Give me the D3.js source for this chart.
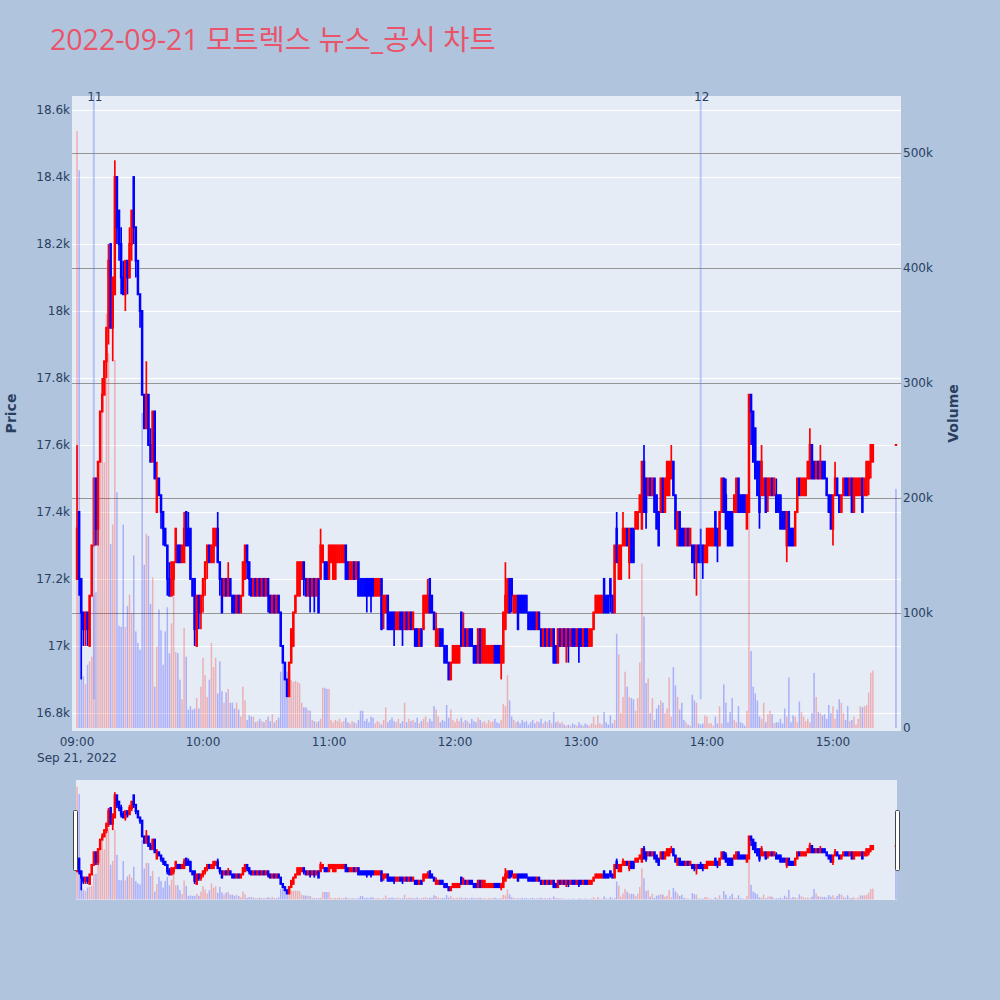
<!DOCTYPE html>
<html><head><meta charset="utf-8">
<script src="https://cdn.jsdelivr.net/npm/d3@7"></script>
<style>body{margin:0;background:#b0c4de;}svg{display:block}</style>
</head><body>
<svg id="chart" width="1000" height="1000"></svg>
<script>
const chartTitle = "2022-09-21 모트렉스 뉴스_공시 차트";
const tradeDate = "2022-09-21";
const firstTime = "09:00";
// one candle per minute from 09:00 to 15:19
const opens = [
17200,17400,17200,17100,17050,17100,17000,17150,17300,17500,
17350,17550,17700,17750,17850,17950,18200,17950,18050,18400,
18300,18200,18100,18050,18150,18100,18200,18400,18250,18150,
18050,18000,17750,17650,17750,17600,17550,17700,17400,17500,
17450,17400,17350,17300,17200,17150,17200,17250,17300,17300,
17250,17250,17400,17350,17350,17200,17200,17000,17150,17100,
17150,17200,17250,17300,17250,17250,17300,17350,17250,17200,
17150,17200,17150,17200,17150,17150,17100,17150,17100,17150,
17200,17300,17250,17200,17150,17200,17150,17200,17150,17200,
17150,17200,17150,17100,17150,17100,17150,17100,17000,16950,
16900,16850,16950,17000,17100,17150,17150,17200,17250,17200,
17150,17200,17150,17200,17150,17200,17200,17250,17250,17250,
17200,17250,17200,17200,17250,17250,17250,17250,17300,17250,
17200,17200,17250,17200,17250,17200,17200,17200,17200,17200,
17200,17200,17150,17150,17150,17200,17100,17100,17150,17100,
17100,17100,17050,17050,17100,17100,17050,17100,17050,17100,
17050,17050,17050,17000,17050,17050,17100,17100,17200,17150,
17100,17000,17000,17050,17050,17000,17000,16950,16900,16950,
16950,16950,16950,17100,17000,17050,17000,17050,17050,17000,
17000,16950,17050,16950,16950,16950,16950,16950,16950,17000,
17000,17000,16950,16950,17050,17100,17200,17200,17100,17100,
17150,17150,17150,17150,17150,17100,17100,17100,17100,17050,
17100,17050,17000,17050,17000,17050,17000,17050,17000,16950,
17050,17000,17050,17000,17050,17000,17050,17050,17000,17050,
17050,17000,17050,17050,17000,17000,17050,17100,17100,17100,
17100,17200,17150,17150,17200,17150,17100,17350,17200,17200,
17300,17300,17350,17250,17350,17350,17350,17350,17400,17350,
17550,17500,17450,17500,17450,17500,17450,17400,17400,17500,
17400,17450,17450,17500,17550,17450,17300,17400,17350,17350,
17300,17350,17300,17300,17300,17250,17300,17300,17300,17250,
17250,17300,17300,17300,17400,17350,17300,17400,17500,17450,
17400,17400,17400,17400,17400,17500,17450,17450,17450,17350,
17400,17750,17700,17650,17550,17550,17450,17450,17500,17450,
17450,17500,17450,17450,17450,17450,17400,17400,17300,17400,
17350,17350,17300,17400,17500,17450,17450,17450,17500,17500,
17600,17550,17500,17550,17500,17550,17550,17500,17450,17450,
17350,17450,17500,17450,17400,17450,17500,17500,17450,17500,
17400,17450,17450,17450,17500,17450,17450,17500,17550,17550];
const highs = [
17600,17400,17200,17100,17100,17100,17150,17300,17500,17500,
17550,17700,17800,17850,17950,18200,18200,18100,18450,18400,
18300,18250,18150,18150,18150,18250,18300,18400,18250,18150,
18050,18000,17750,17850,17750,17650,17700,17700,17550,17500,
17450,17400,17350,17300,17250,17250,17250,17350,17300,17300,
17300,17400,17400,17400,17350,17200,17200,17150,17150,17150,
17200,17250,17300,17300,17300,17350,17350,17400,17250,17200,
17200,17200,17250,17200,17150,17150,17150,17150,17150,17250,
17300,17300,17250,17200,17200,17200,17200,17200,17200,17200,
17200,17200,17150,17150,17150,17150,17150,17100,17000,16950,
16900,16950,17050,17100,17150,17250,17250,17250,17250,17200,
17200,17200,17200,17200,17200,17200,17350,17300,17250,17250,
17300,17300,17300,17300,17300,17300,17300,17300,17300,17250,
17250,17250,17250,17250,17250,17200,17200,17200,17200,17200,
17200,17200,17200,17200,17200,17200,17150,17150,17150,17100,
17100,17100,17100,17100,17100,17100,17100,17100,17100,17100,
17100,17050,17050,17050,17050,17150,17150,17200,17200,17150,
17100,17100,17050,17050,17050,17000,17000,16950,16950,17000,
17000,17000,17000,17100,17100,17050,17050,17050,17050,17000,
17000,17050,17050,17050,17050,17000,17000,17000,17000,17000,
17000,17000,17000,17100,17250,17200,17200,17200,17150,17150,
17150,17150,17150,17150,17150,17100,17100,17100,17100,17100,
17100,17050,17050,17050,17050,17050,17050,17050,17000,17050,
17050,17050,17050,17050,17050,17050,17050,17050,17050,17050,
17050,17050,17050,17050,17050,17050,17100,17150,17150,17150,
17150,17200,17150,17150,17200,17150,17300,17400,17300,17300,
17400,17350,17350,17350,17350,17350,17400,17400,17450,17550,
17600,17500,17500,17500,17500,17500,17450,17400,17500,17500,
17500,17550,17550,17600,17550,17450,17400,17400,17350,17350,
17350,17350,17350,17300,17300,17300,17300,17350,17300,17300,
17350,17350,17350,17350,17400,17350,17400,17500,17500,17500,
17400,17400,17400,17450,17500,17500,17450,17450,17450,17450,
17750,17750,17700,17650,17550,17550,17600,17500,17500,17500,
17500,17500,17500,17500,17450,17450,17400,17400,17400,17400,
17350,17350,17400,17500,17500,17500,17500,17500,17550,17650,
17600,17550,17550,17550,17600,17550,17550,17500,17450,17450,
17450,17550,17500,17450,17450,17500,17500,17500,17500,17500,
17500,17500,17500,17500,17500,17500,17550,17550,17600,17600];
const lows = [
17200,17150,16900,17000,17000,17000,17000,17150,17300,17300,
17300,17550,17700,17750,17800,17900,17950,17850,18050,18200,
18150,18050,18050,18000,18050,18100,18150,18200,18100,18050,
17950,17750,17650,17650,17600,17550,17550,17500,17400,17450,
17350,17300,17300,17150,17150,17150,17150,17250,17250,17250,
17250,17250,17300,17300,17200,17150,17000,17000,17050,17050,
17100,17150,17200,17250,17250,17250,17300,17250,17150,17100,
17150,17150,17150,17150,17100,17100,17100,17100,17100,17150,
17200,17200,17150,17150,17150,17150,17150,17150,17150,17150,
17150,17100,17100,17100,17100,17100,17100,17000,16950,16900,
16850,16850,16950,17000,17100,17150,17150,17200,17150,17150,
17150,17100,17150,17100,17150,17100,17200,17250,17200,17200,
17200,17250,17200,17200,17250,17250,17250,17250,17200,17200,
17200,17200,17200,17200,17150,17150,17150,17150,17100,17150,
17100,17150,17150,17150,17150,17050,17050,17100,17050,17050,
17050,17000,17050,17050,17050,17000,17050,17050,17050,17050,
17050,17000,17000,17000,17000,17050,17100,17100,17100,17100,
17050,17000,17000,17000,17000,16950,16950,16900,16900,16950,
16950,16950,16950,17000,17000,17000,17000,17000,17000,16950,
16950,16950,16950,16950,16950,16950,16950,16950,16950,16950,
16950,16950,16900,16950,17050,17100,17100,17100,17100,17100,
17050,17100,17100,17100,17100,17050,17050,17050,17050,17050,
17050,17000,17000,17000,17000,17000,17000,16950,16950,16950,
17000,17000,17000,16950,16950,17000,17000,17000,17000,16950,
17000,17000,17000,17000,17000,17000,17050,17100,17100,17100,
17100,17100,17100,17100,17100,17100,17100,17250,17200,17200,
17300,17300,17300,17200,17250,17250,17350,17350,17400,17350,
17400,17350,17450,17450,17450,17400,17350,17300,17400,17400,
17400,17450,17450,17500,17450,17350,17300,17300,17300,17300,
17300,17300,17300,17250,17200,17150,17250,17250,17200,17250,
17250,17300,17300,17300,17300,17250,17300,17400,17400,17350,
17300,17300,17300,17400,17400,17400,17400,17400,17400,17350,
17400,17600,17550,17500,17450,17350,17450,17450,17400,17400,
17450,17450,17450,17400,17400,17350,17350,17350,17250,17300,
17300,17300,17300,17400,17450,17450,17450,17450,17500,17500,
17500,17500,17500,17500,17500,17500,17500,17450,17400,17350,
17300,17450,17450,17400,17400,17450,17450,17450,17450,17400,
17400,17450,17450,17450,17400,17450,17450,17450,17500,17550];
const closes = [
17350,17200,17100,17050,17100,17050,17150,17300,17500,17350,
17550,17700,17750,17850,17950,18150,17950,18100,18400,18250,
18200,18100,18050,18150,18100,18200,18300,18250,18150,18050,
18000,17750,17650,17750,17600,17550,17700,17500,17500,17450,
17400,17350,17300,17200,17150,17250,17250,17350,17250,17250,
17300,17350,17300,17300,17200,17150,17050,17150,17100,17150,
17200,17250,17300,17250,17300,17350,17350,17250,17200,17100,
17200,17150,17200,17150,17100,17100,17150,17100,17150,17250,
17300,17250,17200,17150,17200,17150,17200,17150,17200,17150,
17200,17150,17100,17150,17100,17150,17100,17000,16950,16900,
16850,16950,17050,17100,17150,17250,17250,17250,17200,17150,
17200,17150,17200,17150,17200,17100,17300,17300,17200,17200,
17300,17300,17300,17300,17300,17300,17300,17300,17200,17200,
17250,17250,17200,17250,17150,17150,17150,17150,17150,17150,
17150,17150,17200,17200,17200,17050,17150,17150,17050,17050,
17050,17050,17100,17100,17050,17050,17100,17050,17100,17050,
17100,17000,17000,17050,17000,17150,17150,17150,17100,17100,
17050,17050,17050,17000,17000,16950,16950,16900,16950,17000,
17000,17000,17000,17000,17050,17000,17050,17000,17000,16950,
16950,17050,16950,17050,17050,17000,17000,17000,17000,16950,
16950,16950,17000,17100,17150,17200,17100,17150,17150,17150,
17050,17100,17100,17100,17100,17050,17050,17050,17050,17100,
17050,17000,17050,17000,17050,17000,17050,16950,16950,17050,
17000,17050,17000,17050,17000,17050,17000,17000,17050,17000,
17000,17050,17000,17000,17050,17050,17100,17150,17150,17150,
17150,17100,17100,17100,17150,17100,17300,17250,17300,17300,
17350,17350,17300,17350,17250,17250,17400,17400,17450,17550,
17400,17400,17500,17450,17500,17400,17350,17300,17500,17400,
17500,17550,17550,17550,17450,17350,17400,17300,17300,17300,
17350,17300,17350,17250,17250,17300,17250,17250,17250,17300,
17350,17350,17350,17350,17300,17300,17400,17500,17400,17350,
17300,17300,17300,17450,17500,17400,17400,17400,17400,17450,
17750,17700,17550,17500,17450,17400,17550,17500,17400,17500,
17500,17450,17500,17400,17400,17350,17350,17350,17400,17300,
17300,17300,17400,17500,17450,17500,17500,17500,17550,17600,
17500,17500,17550,17500,17550,17500,17500,17450,17400,17350,
17450,17500,17450,17400,17450,17500,17450,17450,17500,17400,
17500,17500,17500,17500,17400,17500,17550,17550,17600,17600];
const volumes = [
519000,485000,70000,45000,38000,55000,58000,62000,116000,118000,
204000,231000,282000,231000,360000,326000,160000,177000,320000,205000,
89000,88000,177000,88000,106000,116000,100000,150000,84000,74000,
68000,274000,142000,169000,167000,108000,131000,36000,71000,103000,
85000,55000,84000,105000,65000,91000,114000,66000,65000,42000,
25000,87000,62000,16000,19000,16000,17000,26000,17000,36000,
61000,46000,27000,42000,74000,53000,61000,30000,58000,32000,
22000,31000,34000,22000,22000,17000,22000,16000,10000,36000,
24000,7000,11000,10000,10000,5000,6000,8000,6000,5000,
7000,10000,6000,12000,5000,7000,9000,49000,56000,48000,
49000,45000,42000,40000,41000,40000,39000,22000,18000,18000,
16000,15000,7000,6000,5000,6000,8000,35000,35000,34000,
34000,7000,5000,7000,6000,8000,5000,6000,9000,5000,
4000,6000,5000,4000,7000,15000,15000,6000,8000,5000,
10000,9000,4000,6000,5000,3000,7000,18000,5000,7000,
9000,6000,5000,8000,4000,6000,22000,5000,8000,6000,
7000,5000,9000,4000,6000,8000,10000,5000,8000,6000,
19000,16000,10000,5000,7000,6000,20000,9000,16000,7000,
5000,8000,6000,9000,5000,7000,6000,4000,8000,6000,
5000,9000,7000,5000,6000,4000,7000,5000,6000,8000,
5000,4000,7000,21000,19000,46000,24000,10000,7000,5000,
6000,4000,7000,5000,6000,3000,5000,7000,4000,6000,
5000,8000,4000,6000,5000,7000,4000,14000,5000,6000,
4000,5000,3000,2000,3000,2000,4000,3000,2000,5000,
3000,2000,4000,3000,2000,4000,10000,3000,11000,4000,
3000,14000,5000,3000,11000,4000,7000,82000,64000,13000,
27000,49000,36000,27000,26000,25000,15000,26000,57000,143000,
97000,39000,43000,13000,26000,7000,17000,20000,24000,22000,
13000,17000,44000,10000,53000,37000,27000,16000,22000,7000,
5000,3000,2000,29000,24000,22000,4000,3000,4000,11000,
10000,4000,4000,2000,10000,4000,19000,4000,38000,22000,
5000,14000,26000,7000,5000,19000,5000,4000,2000,15000,
250000,67000,36000,30000,24000,10000,8000,22000,5000,12000,
15000,12000,4000,5000,5000,8000,4000,17000,10000,44000,
5000,11000,10000,5000,23000,14000,10000,6000,8000,5000,
13000,48000,27000,14000,13000,11000,12000,8000,20000,13000,
19000,8000,16000,25000,22000,13000,7000,19000,6000,7000,
10000,3000,8000,19000,18000,19000,20000,31000,48000,50000];
// closing auction print
const closingTime = "15:30";
const closingOHLC = [17600, 17600, 17600, 17600];
const closingVolume = 208000;
// news / disclosure markers
const newsTimes = ["09:08", "13:57"];
const newsLabels = ["11", "12"];
const priceTicks = [16800,17000,17200,17400,17600,17800,18000,18200,18400,18600];
const priceTickLabels = ["16.8k","17k","17.2k","17.4k","17.6k","17.8k","18k","18.2k","18.4k","18.6k"];
const volumeTicks = [0,100000,200000,300000,400000,500000];
const volumeTickLabels = ["0","100k","200k","300k","400k","500k"];
const priceRange = [16746, 18642];
const volumeRange = [-2600, 549600];

const FONT = "'DejaVu Sans', Verdana, 'Noto Sans CJK KR', sans-serif";
const TITLE_FONT = "'Open Sans', 'Noto Sans CJK KR', sans-serif";
const TXT = "#2a3f5f";
const UP = "#ff0000", DOWN = "#0000ff";
const svg = d3.select("#chart");
svg.append("rect").attr("width",1000).attr("height",1000).attr("fill","#b0c4de");

const parse = d3.timeParse("%Y-%m-%d %H:%M");
const t0 = parse(tradeDate + " " + firstTime);
const candles = opens.map((o,i)=>({t: d3.timeMinute.offset(t0,i), o, h: highs[i], l: lows[i], c: closes[i], v: volumes[i]}));
const tClose = parse(tradeDate + " " + closingTime);
candles.push({t: tClose, o: closingOHLC[0], h: closingOHLC[1], l: closingOHLC[2], c: closingOHLC[3], v: closingVolume});
let prevUp = true;
candles.forEach(d => { d.up = d.c > d.o ? true : (d.c < d.o ? false : prevUp); prevUp = d.up; d.volUp = d.c > d.o; });

const P = {l:72, r:901, t:96, b:731};
const S = {l:76, r:897, t:780, b:900};
const x = d3.scaleTime().domain([d3.timeSecond.offset(t0,-144), d3.timeSecond.offset(tClose,144)]).range([P.l, P.r]);
const yP = d3.scaleLinear().domain(priceRange).range([P.b, P.t]);
const yV = d3.scaleLinear().domain(volumeRange).range([P.b, P.t]);
const xs = d3.scaleTime().domain([d3.timeSecond.offset(t0,-30), d3.timeSecond.offset(tClose,30)]).range([S.l, S.r]);
const ysP = d3.scaleLinear().domain(priceRange).range([S.b, S.t]);
const ysV = d3.scaleLinear().domain(volumeRange).range([S.b, S.t]);

const defs = svg.append("defs");
defs.append("clipPath").attr("id","clipMain").append("rect").attr("x",P.l).attr("y",P.t).attr("width",P.r-P.l).attr("height",P.b-P.t);
defs.append("clipPath").attr("id","clipSlider").append("rect").attr("x",S.l).attr("y",S.t).attr("width",S.r-S.l).attr("height",S.b-S.t);

// main plot background
svg.append("rect").attr("x",P.l).attr("y",P.t).attr("width",P.r-P.l).attr("height",P.b-P.t).attr("fill","#e5ecf6");
// price grid (white)
svg.append("g").selectAll("line").data(priceTicks).join("line")
  .attr("x1",P.l).attr("x2",P.r).attr("y1",d=>Math.round(yP(d))+0.5).attr("y2",d=>Math.round(yP(d))+0.5)
  .attr("stroke","#ffffff").attr("stroke-width",1);
// volume grid (gray)
svg.append("g").selectAll("line").data(volumeTicks.filter(v=>v>0)).join("line")
  .attr("x1",P.l).attr("x2",P.r).attr("y1",d=>Math.round(yV(d))+0.5).attr("y2",d=>Math.round(yV(d))+0.5)
  .attr("stroke","#959595").attr("stroke-width",1);

function drawSeries(g, xS, yPS, yVS) {
  g.append("g").selectAll("rect").data(candles).join("rect")
    .attr("x", d => xS(d.t) - 0.75).attr("width", 1.5)
    .attr("y", d => yVS(d.v)).attr("height", d => Math.max(0, yVS(0) - yVS(d.v)))
    .attr("fill", d => d.volUp ? UP : DOWN).attr("fill-opacity", 0.26);
  g.append("g").selectAll("line").data(candles).join("line")
    .attr("x1", d => xS(d.t)).attr("x2", d => xS(d.t))
    .attr("y1", d => yPS(d.h)).attr("y2", d => yPS(d.l))
    .attr("stroke", d => d.up ? UP : DOWN).attr("stroke-width", 1.7);
  g.append("g").selectAll("rect").data(candles).join("rect")
    .attr("x", d => xS(d.t) - 1.25).attr("width", 2.5)
    .attr("y", d => yPS(Math.max(d.o, d.c)) - 1)
    .attr("height", d => Math.abs(yPS(d.o) - yPS(d.c)) + 2)
    .attr("fill", d => d.up ? UP : DOWN);
}
drawSeries(svg.append("g").attr("clip-path","url(#clipMain)"), x, yP, yV);

// news markers
const news = newsTimes.map((t,i)=>({t: parse(tradeDate+" "+t), label: newsLabels[i]}));
const ng = svg.append("g");
ng.selectAll("line").data(news).join("line")
  .attr("x1", d=>x(d.t)).attr("x2", d=>x(d.t))
  .attr("y1", P.t).attr("y2", P.b - 0.05*(P.b-P.t))
  .attr("stroke","rgba(100,130,250,0.38)").attr("stroke-width",2);
ng.selectAll("text").data(news).join("text")
  .attr("x", d=>x(d.t)+1).attr("y", P.t+5).attr("text-anchor","middle")
  .attr("font-family",FONT).attr("font-size",12).attr("fill",TXT).text(d=>d.label);

// left price axis labels
svg.append("g").selectAll("text").data(priceTicks).join("text")
  .attr("x", P.l-2).attr("y", d=>yP(d)).attr("dy","0.35em").attr("text-anchor","end")
  .attr("font-family",FONT).attr("font-size",12).attr("fill",TXT)
  .text((d,i)=>priceTickLabels[i]);
// right volume axis labels
svg.append("g").selectAll("text").data(volumeTicks).join("text")
  .attr("x", P.r+2).attr("y", d=>yV(d)).attr("dy","0.35em").attr("text-anchor","start")
  .attr("font-family",FONT).attr("font-size",12).attr("fill",TXT)
  .text((d,i)=>volumeTickLabels[i]);
// x axis labels
const hourTicks = d3.timeHour.range(t0, d3.timeMinute.offset(tClose,1));
svg.append("g").selectAll("text").data(hourTicks).join("text")
  .attr("x", d=>x(d)).attr("y", 746).attr("text-anchor","middle")
  .attr("font-family",FONT).attr("font-size",12).attr("fill",TXT)
  .text(d=>d3.timeFormat("%H:%M")(d));
svg.append("text").attr("x", x(t0)).attr("y", 762).attr("text-anchor","middle")
  .attr("font-family",FONT).attr("font-size",12).attr("fill",TXT)
  .text(d3.timeFormat("%b %-d, %Y")(t0));

// axis titles
svg.append("text").attr("transform","translate(16,413.5) rotate(-90)").attr("text-anchor","middle")
  .attr("font-family",FONT).attr("font-size",14).attr("font-weight","bold").attr("fill",TXT).text("Price");
svg.append("text").attr("transform","translate(958,413.5) rotate(-90)").attr("text-anchor","middle")
  .attr("font-family",FONT).attr("font-size",14).attr("font-weight","bold").attr("fill",TXT).text("Volume");

// title
svg.append("text").attr("x",50).attr("y",50).attr("font-family",TITLE_FONT).attr("font-size",28.5)
  .attr("fill","#e9546a").text(chartTitle);

// range slider
svg.append("rect").attr("x",S.l).attr("y",S.t).attr("width",S.r-S.l).attr("height",S.b-S.t).attr("fill","#e5ecf6");
drawSeries(svg.append("g").attr("clip-path","url(#clipSlider)"), xs, ysP, ysV);
[S.l-2.5, S.r-1.5].forEach(hx=>{
  svg.append("rect").attr("x",hx).attr("y",810.5).attr("width",4).attr("height",60)
    .attr("fill","#ffffff").attr("stroke","#444").attr("stroke-width",1).attr("rx",1);
});
</script>
</body></html>
